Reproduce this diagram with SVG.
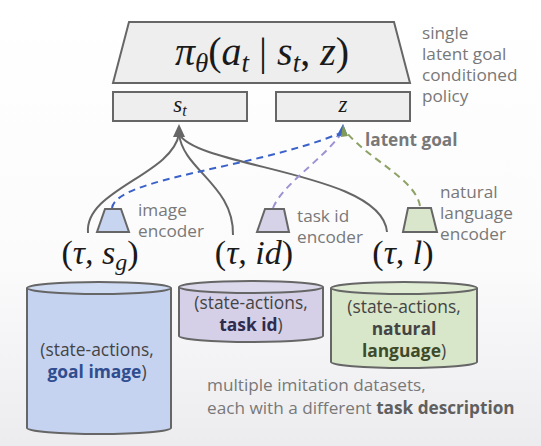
<svg xmlns="http://www.w3.org/2000/svg" width="541" height="446" viewBox="0 0 541 446">
  <defs>
    <linearGradient id="bg" x1="0" y1="0" x2="0" y2="1">
      <stop offset="0" stop-color="#ffffff"/>
      <stop offset="0.6" stop-color="#fbfbfc"/>
      <stop offset="1" stop-color="#ececef"/>
    </linearGradient>
    <style>
      .box { fill: #eeeeee; stroke: #666666; stroke-width: 2; }
      .cyl { stroke: #666666; stroke-width: 2; }
      .math { font-family: "Liberation Serif", "DejaVu Serif", serif; font-style: italic; fill: #1a1a1a; }
      .lbl { font-family: "Open Sans", Roboto, sans-serif; font-size: 17.2px; fill: #787878; }
      .ds { font-family: "Open Sans", Roboto, sans-serif; font-size: 17.4px; fill: #444444; text-anchor: middle; }
      .b { font-weight: bold; }
      .solid { fill: none; stroke: #666666; stroke-width: 2; }
      .dash { fill: none; stroke-width: 2; stroke-dasharray: 7 5; }
    </style>
  </defs>

  <rect width="541" height="446" fill="url(#bg)"/>

  <!-- policy -->
  <g id="policy">
    <path class="box" d="M129,22 L394,22 L410,83 L113,83 Z"/>
    <text class="math" x="262" y="65" font-size="40" text-anchor="middle">π<tspan font-size="27" dy="7">θ</tspan><tspan dy="-7" font-style="normal">(</tspan>a<tspan font-size="27" dy="7">t</tspan><tspan dy="-7" font-style="normal"> | </tspan>s<tspan font-size="27" dy="7">t</tspan><tspan dy="-7" font-style="normal">, </tspan>z<tspan font-style="normal">)</tspan></text>
    <text class="lbl" x="422" y="39">single</text>
    <text class="lbl" x="422" y="60">latent goal</text>
    <text class="lbl" x="422" y="81">conditioned</text>
    <text class="lbl" x="422" y="102">policy</text>
  </g>

  <g id="state-input">
    <rect class="box" x="113" y="92" width="134" height="29"/>
    <text class="math" x="180" y="112" font-size="23" text-anchor="middle">s<tspan font-size="16" dy="4">t</tspan></text>
  </g>

  <g id="goal-input">
    <rect class="box" x="276" y="92" width="134" height="29"/>
    <text class="math" x="343" y="112" font-size="23" text-anchor="middle">z</text>
  </g>

  <text class="lbl b" x="365" y="146" fill="#666666" font-size="17">latent goal</text>

  <!-- connectors -->
  <g id="connectors">
    <path class="solid" d="M88,233 C84,190 172,175 179,134"/>
    <path class="solid" d="M233,235 C234,185 183,170 179,134"/>
    <path class="solid" d="M387,232 C382,172 198,168 179,134"/>
    <polygon points="179,124 173,137 185,137" fill="#666666"/>

    <path class="dash" stroke="#3b62c9" d="M112,208 C116,178 255,168 338,134"/>
    <path class="dash" stroke="#9d92d3" d="M273,208 C282,185 322,160 341,134"/>
    <path class="dash" stroke="#8ea266" d="M420,206 C416,180 370,160 347,133"/>
    <polygon points="343,124 336,137 347,134" fill="#3b62c9"/>
    <polygon points="343,124 348,136 341,137" fill="#7f9a5a"/>
  </g>

  <!-- encoders -->
  <g id="image-encoder">
    <path class="cyl" fill="#c8d5f1" d="M105,209 L121,209 L129,232 L97,232 Z"/>
    <text class="lbl" x="138" y="216">image</text>
    <text class="lbl" x="138" y="237">encoder</text>
  </g>
  <g id="taskid-encoder">
    <path class="cyl" fill="#d6d2e8" d="M265,209 L284,209 L289,232 L257,232 Z"/>
    <text class="lbl" x="297" y="222">task id</text>
    <text class="lbl" x="297" y="243">encoder</text>
  </g>
  <g id="language-encoder">
    <path class="cyl" fill="#dae6cc" d="M408,208 L431,208 L437,232 L403,232 Z"/>
    <text class="lbl" x="440" y="198">natural</text>
    <text class="lbl" x="440" y="219">language</text>
    <text class="lbl" x="440" y="240">encoder</text>
  </g>

  <!-- dataset tuples -->
  <text class="math" x="100" y="264" font-size="34" text-anchor="middle"><tspan font-style="normal">(</tspan>τ, s<tspan font-size="24" dy="6">g</tspan><tspan dy="-6" font-style="normal">)</tspan></text>
  <text class="math" x="254" y="264" font-size="34" text-anchor="middle"><tspan font-style="normal">(</tspan>τ, id<tspan font-style="normal">)</tspan></text>
  <text class="math" x="403" y="264" font-size="34" text-anchor="middle"><tspan font-style="normal">(</tspan>τ, l<tspan font-style="normal">)</tspan></text>

  <!-- datasets -->
  <g id="goal-image-data">
    <path class="cyl" fill="#c6d3f0" d="M27,288 L27,428 A72,6 0 0 0 171,428 L171,288"/>
    <ellipse class="cyl" fill="#cfdaf3" cx="99" cy="288" rx="72" ry="6"/>
    <text class="ds" x="97" y="356">(state-actions,</text>
    <text class="ds b" x="97" y="378"><tspan fill="#2f4d8f">goal image</tspan><tspan font-weight="normal">)</tspan></text>
  </g>
  <g id="task-id-data">
    <path class="cyl" fill="#d5d0e7" d="M179,287 L179,336 A72,6 0 0 0 323,336 L323,287"/>
    <ellipse class="cyl" fill="#dcd8ec" cx="251" cy="287" rx="72" ry="6"/>
    <text class="ds" x="251" y="309">(state-actions,</text>
    <text class="ds" x="251" y="331"><tspan class="b" fill="#2e2b4f">task id</tspan>)</text>
  </g>
  <g id="language-data">
    <path class="cyl" fill="#d8e6ca" d="M331,288 L331,362 A73,6 0 0 0 477,362 L477,288"/>
    <ellipse class="cyl" fill="#dfebd3" cx="404" cy="288" rx="73" ry="6"/>
    <text class="ds" x="404" y="313">(state-actions,</text>
    <text class="ds b" x="404" y="335" fill="#3d4b2b">natural</text>
    <text class="ds" x="404" y="357"><tspan class="b" fill="#3d4b2b">language</tspan>)</text>
  </g>

  <text class="lbl" x="207" y="391">multiple imitation datasets,</text>
  <text class="lbl" x="207" y="414">each with a different <tspan class="b" fill="#5f5f5f">task description</tspan></text>
</svg>
